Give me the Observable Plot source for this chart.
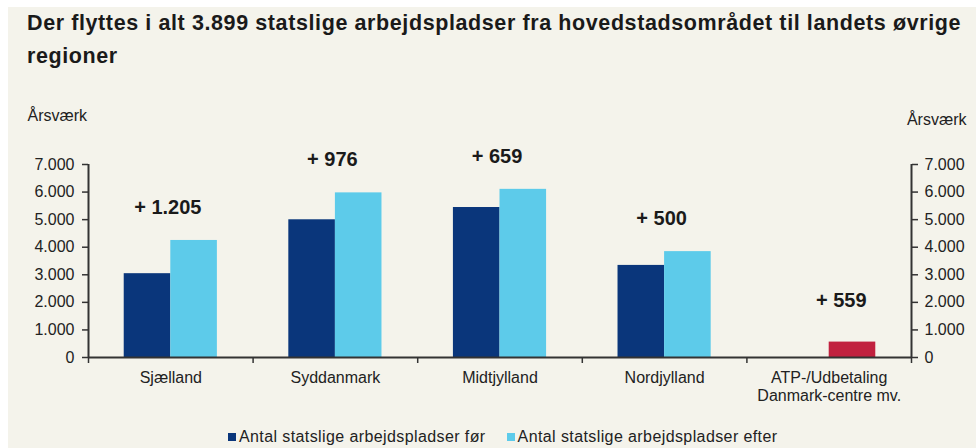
<!DOCTYPE html>
<html><head><meta charset="utf-8">
<script src="https://cdn.jsdelivr.net/npm/d3@7"></script>
<script src="https://cdn.jsdelivr.net/npm/@observablehq/plot@0.6"></script>
<style>
html,body{margin:0;padding:0;background:#fff;}
#wrap{position:absolute;left:8px;top:7px;width:968px;height:441px;background:#f4f3eb;font-family:"Liberation Sans",Arial,sans-serif;color:#222;overflow:hidden;}
#title{position:absolute;left:19px;top:0px;font-size:21.5px;letter-spacing:0.6px;font-weight:bold;line-height:33px;width:945px;color:#1a1a1a;}
#chart{position:absolute;left:0;top:93px;}
#legend{position:absolute;left:220px;top:421px;font-size:16px;letter-spacing:0.4px;white-space:nowrap;display:flex;align-items:center;}
#legend .sw{display:inline-block;width:8px;height:8px;margin-right:3px;}
#legend .item{display:inline-flex;align-items:center;margin-right:21px;}
</style>
</head><body>
<div id="wrap">
  <div id="title">Der flyttes i alt 3.899 statslige arbejdspladser fra hovedstadsområdet til landets øvrige regioner</div>
  <div id="chart"></div>
  <div id="legend"></div>
</div>
<script>
const categories = ["Sjælland", "Syddanmark", "Midtjylland", "Nordjylland", "ATP-/Udbetaling\nDanmark-centre mv."];
const before = [3040, 4995, 5440, 3340, null];
const after = [4245, 5971, 6099, 3840, 559];
const diffLabels = ["+ 1.205", "+ 976", "+ 659", "+ 500", "+ 559"];
const yTicks = [0, 1000, 2000, 3000, 4000, 5000, 6000, 7000];
const seriesNames = ["Antal statslige arbejdspladser før", "Antal statslige arbejdspladser efter"];
const colors = {before: "#0a367b", after: "#5dcbea", special: "#c1213f"};

const rows = categories.map((c, i) => ({i, c, before: before[i], after: after[i], label: diffLabels[i], special: before[i] == null}));
const fmt = d3.formatLocale({decimal: ",", thousands: ".", grouping: [3], currency: ["", ""]}).format(",");
const bw = 0.283;
const axisColor = "#333";

const chart = Plot.plot({
  width: 968,
  height: 310,
  marginLeft: 80,
  marginRight: 65,
  marginTop: 64,
  marginBottom: 53,
  style: {background: "transparent", color: "#222", fontFamily: "'Liberation Sans', Arial, sans-serif", fontSize: "16px"},
  x: {domain: [0, 5], axis: null},
  y: {domain: [0, 7000], axis: null},
  marks: [
    Plot.rectY(rows.filter(d => d.before != null), {x1: d => d.i + 0.5 - bw, x2: d => d.i + 0.5, y: "before", fill: colors.before}),
    Plot.rectY(rows, {x1: d => d.i + 0.5, x2: d => d.i + 0.5 + bw, y: "after", fill: d => d.special ? colors.special : colors.after}),
    Plot.axisY({anchor: "left", ticks: yTicks, tickFormat: fmt, tickSize: 6, tickPadding: 8, stroke: axisColor, strokeWidth: 1.5, fontSize: 16, fill: "#222"}),
    Plot.axisY({anchor: "right", ticks: yTicks, tickFormat: fmt, tickSize: 6, tickPadding: 7, stroke: axisColor, strokeWidth: 1.5, fontSize: 16, fill: "#222"}),
    Plot.axisX({anchor: "bottom", ticks: [0, 1, 2, 3, 4, 5], tickFormat: () => "", tickSize: 6, stroke: axisColor, strokeWidth: 1.5}),
    Plot.ruleX([0, 5], {y1: 0, y2: 7000, stroke: axisColor, strokeWidth: 2}),
    Plot.ruleY([0], {x1: 0, x2: 5, stroke: axisColor, strokeWidth: 2}),
    Plot.text(rows, {x: d => d.i + 0.5, frameAnchor: "bottom", lineAnchor: "top", dy: 13, text: "c", fontSize: 16, lineHeight: 1.12, fill: "#222"}),
    Plot.text(rows.filter(d => !d.special), {x: d => d.i + 0.5, y: "after", dy: -33, dx: -3, text: "label", fontSize: 20, fontWeight: "bold", fill: "#1a1a1a"}),
    Plot.text(rows.filter(d => d.special), {x: d => d.i + 0.5, y: "after", dy: -41, dx: 12, text: "label", fontSize: 20, fontWeight: "bold", fill: "#1a1a1a"}),
    Plot.text(["Årsværk"], {frameAnchor: "top-left", dx: -61, dy: -55, textAnchor: "start", fontSize: 16, fill: "#222"}),
    Plot.text(["Årsværk"], {frameAnchor: "top-right", dx: 55, dy: -51, textAnchor: "end", fontSize: 16, fill: "#222"})
  ]
});
document.getElementById("chart").appendChild(chart);

const legend = document.getElementById("legend");
[[seriesNames[0], colors.before], [seriesNames[1], colors.after]].forEach(([name, col]) => {
  const it = document.createElement("span");
  it.className = "item";
  const sw = document.createElement("span");
  sw.className = "sw";
  sw.style.background = col;
  it.appendChild(sw);
  it.appendChild(document.createTextNode(name));
  legend.appendChild(it);
});
</script>
</body></html>
